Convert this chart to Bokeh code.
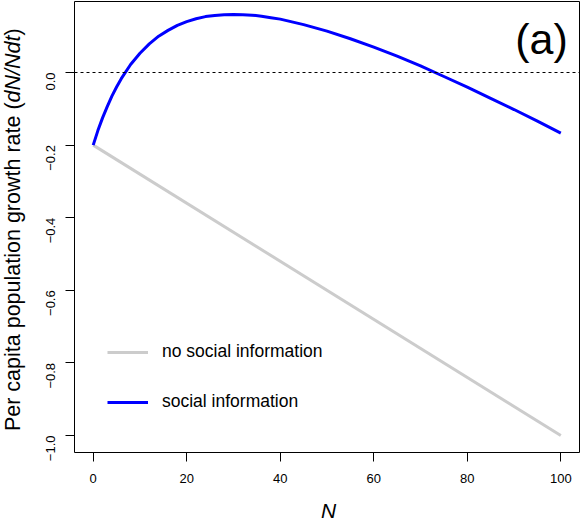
import math
from bokeh.plotting import figure
from bokeh.layouts import row, column
from bokeh.models import (FixedTicker, Span, Label, Legend, LegendItem)
from bokeh.core.properties import value
from bokeh.embed import file_html
from bokeh.resources import INLINE

# ---- data ----
N_social = [0, 1, 2, 3, 4, 5, 6, 8, 10, 12, 14, 16, 18, 20, 22, 24, 26, 28,
            30, 32, 34, 36, 38, 40, 45, 50, 55, 60, 65, 70, 75, 80, 85, 90,
            95, 100]
r_social = [-0.200, -0.160, -0.125, -0.094, -0.065, -0.040, -0.017, 0.022,
            0.053, 0.079, 0.100, 0.116, 0.130, 0.140, 0.148, 0.154, 0.157,
            0.159, 0.160, 0.159, 0.158, 0.155, 0.151, 0.147, 0.132, 0.114,
            0.093, 0.070, 0.045, 0.018, -0.011, -0.040, -0.071, -0.102,
            -0.134, -0.167]
N_nosocial = [0, 100]
r_nosocial = [-0.2, -1.0]

x_ticks = [0, 20, 40, 60, 80, 100]
y_ticks = [-1.0, -0.8, -0.6, -0.4, -0.2, 0.0]
y_tick_labels = ["\u22121.0", "\u22120.8", "\u22120.6", "\u22120.4",
                 "\u22120.2", "0.0"]
legend_labels = ["no social information", "social information"]
x_title = "N"
y_title_parts = ["Per capita population growth rate (", "dN/Ndt", ")"]
y_title_styles = ["normal", "italic", "normal"]
panel_tag = "(a)"

FONT = "Liberation Sans"

# ---------------- main panel ----------------
p = figure(width=550, height=492, x_range=(-4, 104), y_range=(-1.0468, 0.1956),
           output_backend="svg", toolbar_location=None,
           min_border_left=44, min_border_right=1, min_border_top=1,
           min_border_bottom=40)
p.background_fill_color = "white"
p.border_fill_color = "white"
p.outline_line_color = "black"
p.outline_line_width = 1
p.grid.visible = False

for ax in (p.xaxis[0], p.yaxis[0]):
    ax.axis_line_color = None
    ax.major_tick_out = 9
    ax.major_tick_in = 0
    ax.minor_tick_line_color = None
    ax.major_tick_line_color = "black"
    ax.major_label_text_font = FONT
    ax.major_label_text_font_size = "13px"
    ax.major_label_text_color = "black"

p.xaxis.ticker = FixedTicker(ticks=x_ticks)
p.xaxis.major_label_standoff = 12
p.yaxis.ticker = FixedTicker(ticks=y_ticks)
p.yaxis.major_label_overrides = {t: l for t, l in zip(y_ticks, y_tick_labels)}
p.yaxis.major_label_orientation = math.pi / 2
p.yaxis.major_label_standoff = 15

p.add_layout(Span(location=0, dimension="width", line_color="black",
                  line_width=1, line_dash="3 3"))

r1 = p.line(N_nosocial, r_nosocial, line_color="#cccccc", line_width=3)
r2 = p.line(N_social, r_social, line_color="#0000ff", line_width=3)

legend = Legend(items=[LegendItem(label=legend_labels[0], renderers=[r1]),
                       LegendItem(label=legend_labels[1], renderers=[r2])],
                location=(33, 40), orientation="vertical",
                glyph_width=41, glyph_height=20, label_height=20,
                label_standoff=14, spacing=29, padding=0, margin=0,
                border_line_color=None, background_fill_alpha=0,
                label_text_font=FONT, label_text_font_size="17.5px",
                label_text_color="black")
p.add_layout(legend)

p.add_layout(Label(x=101.5, y=0.0934, text=panel_tag, text_align="right",
                   text_baseline="middle", text_font=FONT,
                   text_font_size="43px", text_color="black"))

# ---------------- y title strip (left) ----------------
# its frame is aligned with the main frame (page y 1..452)
yl = figure(width=30, height=492, x_range=(0, 30), y_range=(70, 521),
            output_backend="svg", toolbar_location=None,
            x_axis_type=None, y_axis_type=None,
            min_border_left=0, min_border_right=0, min_border_top=1,
            min_border_bottom=40)
yl.outline_line_color = None
yl.grid.visible = False
yl.text(x=[12.3, 12.3, 12.3], y=[91.4, 420.0, 486.9], text=y_title_parts,
        angle=math.pi / 2, text_align="left", text_baseline="middle",
        text_font=value(FONT), text_font_style=y_title_styles,
        text_font_size="21.5px", text_color="black")

# ---------------- x title strip (bottom) ----------------
xl = figure(width=580, height=30, x_range=(0, 580), y_range=(0, 30),
            output_backend="svg", toolbar_location=None,
            x_axis_type=None, y_axis_type=None, min_border=0)
xl.outline_line_color = None
xl.grid.visible = False
xl.text(x=[328], y=[12], text=[x_title], text_align="center",
        text_baseline="middle", text_font=value(FONT),
        text_font_style="italic", text_font_size="21px", text_color="black")

layout = column(row(yl, p, spacing=0), xl, spacing=0)
open("out.html", "w").write(file_html(layout, INLINE))
